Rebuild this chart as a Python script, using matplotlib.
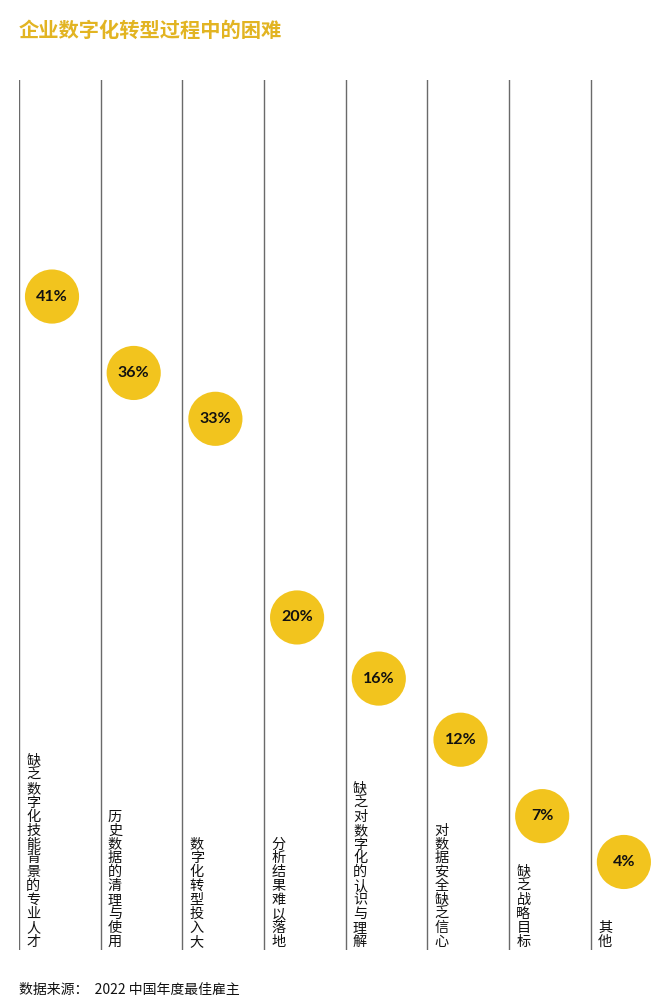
import matplotlib
matplotlib.use('Agg')
import matplotlib.pyplot as plt

plt.rcParams['font.family'] = ['Noto Sans CJK SC', 'DejaVu Sans']

# data
categories = ['缺乏数字化技能背景的专业人才', '历史数据的清理与使用', '数字化转型投入大',
              '分析结果难以落地', '缺乏对数字化的认识与理解', '对数据安全缺乏信心',
              '缺乏战略目标', '其他']
values = [41, 36, 33, 20, 16, 12, 7, 4]
value_labels = ['41%', '36%', '33%', '20%', '16%', '12%', '7%', '4%']

title = '企业数字化转型过程中的困难'
source = '数据来源：  2022 中国年度最佳雇主'

gold = '#F2C41E'

fig = plt.figure(figsize=(6.6, 10.01), dpi=100)
ax = fig.add_axes([19 / 660, 1 - 950 / 1001, 641 / 660, 870 / 1001])
ax.set_xlim(0, 7.846)
ax.set_ylim(-1.83, 55.1)
ax.axis('off')

for i, (cat, v, lab) in enumerate(zip(categories, values, value_labels)):
    ax.axvline(i, color='#6a6a6a', lw=1.0)
    ax.scatter(i + 0.404, v - 0.07, s=1520, color=gold, edgecolors='none', zorder=3)
    ax.text(i + 0.404, v - 0.07, lab, ha='center', va='center', fontsize=11.5,
            fontweight='bold', family=['Lato', 'DejaVu Sans'], color='#111111', zorder=4)
    ax.text(i + 0.175, -1.75, '\n'.join(cat), ha='center', va='bottom',
            fontsize=10.2, linespacing=0.99, color='#111111')

fig.text(19 / 660, 1 - 30 / 1001, title, ha='left', va='center', fontsize=14.6,
         fontweight='bold', color='#E2B422')
fig.text(19 / 660, 1 - 990 / 1001, source, ha='left', va='center', fontsize=10,
         color='#111111')

fig.savefig('out.png', dpi=100)
